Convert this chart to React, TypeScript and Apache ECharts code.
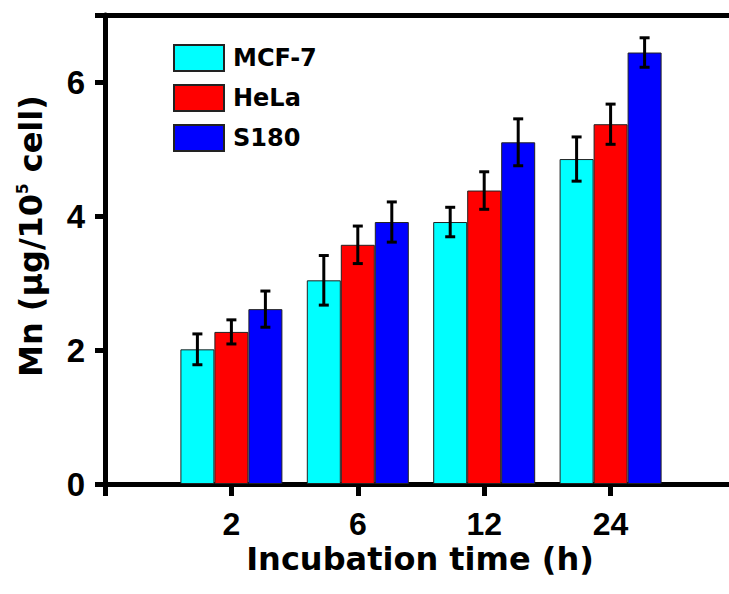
import React, { useEffect, useRef } from "react";
import * as echarts from "echarts";

const categories = ["", "2", "6", "12", "24", ""];
const seriesNames = ["MCF-7", "HeLa", "S180"];
const mcf7 = [null, 2.01, 3.04, 3.91, 4.85, null];
const mcf7Err = [null, 0.23, 0.37, 0.22, 0.33, null];
const hela = [null, 2.27, 3.57, 4.38, 5.37, null];
const helaErr = [null, 0.18, 0.28, 0.28, 0.3, null];
const s180 = [null, 2.61, 3.91, 5.1, 6.44, null];
const s180Err = [null, 0.27, 0.3, 0.35, 0.22, null];
const colors = ["#00FFFF", "#FF0000", "#0000FF"];
const yMin = 0;
const yMax = 7;
const yInterval = 2;

const BAR_W = 34;
const TITLE_FONT = "'DejaVu Sans', 'Liberation Sans', Arial, sans-serif";
const NUM_FONT = "'Liberation Sans', Arial, sans-serif";

export default function App() {
  const ref = useRef<HTMLDivElement>(null);
  useEffect(() => {
    document.body.style.margin = "0";
    const chart = echarts.init(ref.current!, null, { renderer: "svg" });
    const values = [mcf7, hela, s180];
    const errs = [mcf7Err, helaErr, s180Err];
    const errData: number[][] = [];
    values.forEach((arr, k) => {
      arr.forEach((v, i) => {
        if (v != null) errData.push([i, k, v as number, errs[k][i] as number]);
      });
    });
    const axisLineStyle = { color: "#000", width: 5 };
    chart.setOption({
      animation: false,
      backgroundColor: "#fff",
      grid: {
        left: 105,
        top: 15,
        width: 632,
        bottom: 110,
        containLabel: false,
        outerBoundsMode: "none",
      },
      legend: {
        orient: "vertical",
        left: 173,
        top: 44,
        padding: 0,
        itemWidth: 50,
        itemHeight: 26,
        itemGap: 12,
        icon: "rect",
        data: seriesNames,
        textStyle: {
          fontSize: 24,
          fontWeight: "bold",
          fontFamily: TITLE_FONT,
          color: "#000",
          padding: [0, 0, 0, 4],
        },
      },
      xAxis: [
        {
          type: "category",
          data: categories,
          boundaryGap: false,
          axisLine: { lineStyle: axisLineStyle },
          axisTick: { show: true, length: 12, inside: false, lineStyle: { color: "#000", width: 5 } },
          axisLabel: {
            interval: 0,
            margin: 26,
            fontSize: 32,
            lineHeight: 28,
            fontWeight: "bold",
            fontFamily: NUM_FONT,
            color: "#000",
          },
          splitLine: { show: false },
        },
        {
          type: "category",
          data: categories,
          boundaryGap: false,
          position: "top",
          axisLine: { lineStyle: axisLineStyle },
          axisTick: { show: false },
          axisLabel: { show: false },
          splitLine: { show: false },
        },
      ],
      yAxis: {
        type: "value",
        min: yMin,
        max: yMax,
        interval: yInterval,
        axisLine: { show: true, lineStyle: axisLineStyle },
        axisTick: { show: true, length: 10, lineStyle: { color: "#000", width: 5 } },
        axisLabel: {
          margin: 20,
          fontSize: 33,
          fontWeight: "bold",
          fontFamily: NUM_FONT,
          color: "#000",
          formatter: (v: number) => (v === yMax ? "" : String(v)),
        },
        splitLine: { show: false },
      },
      series: [
        ...values.map((arr, k) => ({
          name: seriesNames[k],
          type: "bar",
          data: arr,
          barWidth: BAR_W,
          barGap: "0%",
          itemStyle: { color: colors[k], borderColor: "#222", borderWidth: 1 },
        })),
        {
          type: "custom",
          data: errData,
          encode: { x: 0, y: 2 },
          z: 10,
          renderItem: (params: any, api: any) => {
            const cat = api.value(0);
            const k = api.value(1);
            const v = api.value(2);
            const e = api.value(3);
            const top = api.coord([cat, v + e]);
            const bot = api.coord([cat, v - e]);
            const x = top[0] + (k - 1) * BAR_W;
            const style = { stroke: "#000", lineWidth: 3 };
            const cap = 5;
            return {
              type: "group",
              children: [
                { type: "line", shape: { x1: x, y1: top[1], x2: x, y2: bot[1] }, style },
                { type: "line", shape: { x1: x - cap, y1: top[1], x2: x + cap, y2: top[1] }, style },
                { type: "line", shape: { x1: x - cap, y1: bot[1], x2: x + cap, y2: bot[1] }, style },
              ],
            };
          },
        },
      ],
      graphic: [
        {
          type: "text",
          x: 420,
          y: 559,
          style: {
            text: "Incubation time (h)",
            fontSize: 32,
            fontWeight: "bold",
            fontFamily: TITLE_FONT,
            lineHeight: 30,
            fill: "#000",
            align: "center",
            verticalAlign: "middle",
          },
        },
        {
          type: "text",
          x: 31,
          y: 236,
          rotation: Math.PI / 2,
          style: {
            text: "{a|Mn (μg/10}{s|5}{a| cell)}",
            align: "center",
            verticalAlign: "middle",
            fill: "#000",
            rich: {
              a: {
                fontSize: 32,
                lineHeight: 32,
                fontWeight: "bold",
                fontFamily: TITLE_FONT,
                verticalAlign: "bottom",
                fill: "#000",
              },
              s: {
                fontSize: 15,
                lineHeight: 15,
                fontWeight: "bold",
                fontFamily: TITLE_FONT,
                verticalAlign: "top",
                padding: [0, 0, 28, 0],
                fill: "#000",
              },
            },
          },
        },
      ],
    });
    return () => chart.dispose();
  }, []);
  return (
    <div
      ref={ref}
      style={{ position: "absolute", left: 0, top: 0, width: 729, height: 594, background: "#fff" }}
    />
  );
}
